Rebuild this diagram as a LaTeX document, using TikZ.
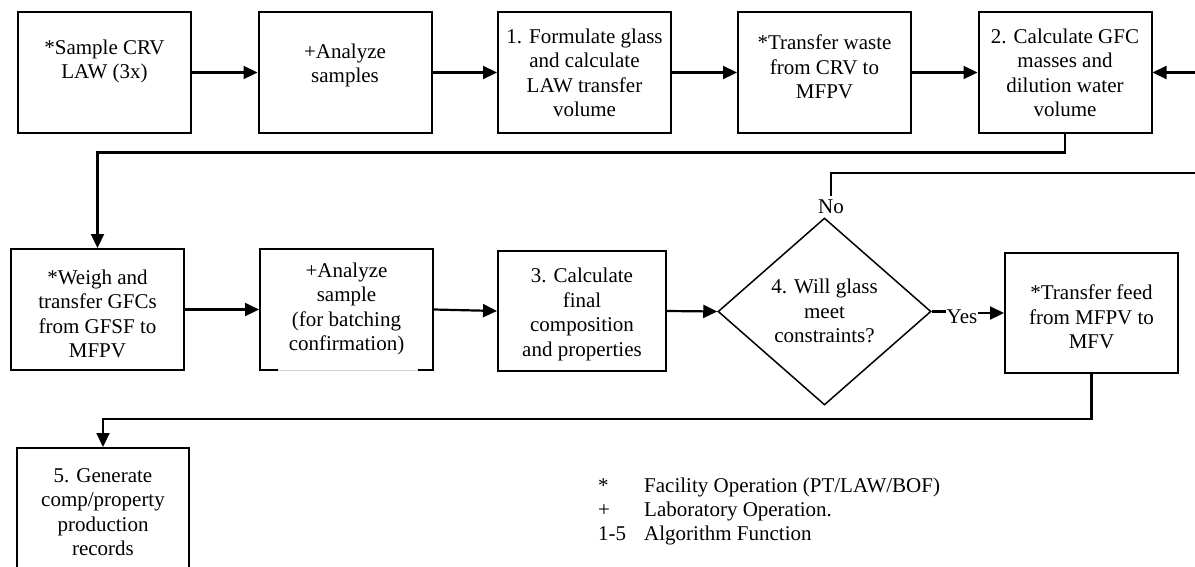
\documentclass[tikz,border=0pt]{standalone}
\usepackage{fontspec}
\setmainfont{Liberation Serif}
\usetikzlibrary{arrows.meta,shapes.geometric,calc}
\begin{document}
\begin{tikzpicture}[x=1pt,y=1pt,
  box/.style={draw, line width=2pt, minimum width=173pt, minimum height=121pt, inner sep=0pt},
  txt/.style={align=center, font=\fontsize{21}{24.5}\selectfont, inner sep=0pt},
  conn/.style={line width=2.2pt},
  arr/.style={conn, -{Triangle[length=14pt,width=13pt]}},
]
\clip (0,0) rectangle (1195,-566);
\fill[white] (0,0) rectangle (1195,-566);
% row 1
\node[box] (A) at (104.5,-72.5) {};
\node[txt] (At) at (104.5,-61.5) {*Sample CRV\\LAW (3x)};
\node[box] (B) at (345,-72.5) {};
\node[txt] (Bt) at (345,-65.5) {+Analyze\\samples};
\node[box] (C) at (584.5,-72.5) {};
\node[txt] (Ct) at (584.5,-73) {1. Formulate glass\\and calculate\\LAW transfer\\volume};
\node[box] (D) at (824.5,-72.5) {};
\node[txt] (Dt) at (824.5,-67) {*Transfer waste\\from CRV to\\MFPV};
\node[box] (E) at (1065,-72.5) {};
\node[txt] (Et) at (1065,-73) {2. Calculate GFC\\masses and\\dilution water\\volume};
% row 2
\node[box] (F) at (97.5,-309.5) {};
\node[txt] (Ft) at (97.5,-314) {*Weigh and\\transfer GFCs\\from GFSF to\\MFPV};
\node[box] (G) at (346.5,-309.5) {};
\node[txt] (Gt) at (346.5,-309) {+Analyze\\sample\\(for batching\\confirmation)};
\node[box, minimum width=168pt, minimum height=120pt] (H) at (582,-311) {};
\node[txt] (Ht) at (582,-314.5) {3. Calculate\\final\\composition\\and properties};
\node[draw, diamond, line width=1.5pt, minimum width=213pt, minimum height=187pt, inner sep=0pt] (Q) at (824.5,-311.5) {};
\node[txt] (Qt) at (824.5,-311) {4. Will glass\\meet\\constraints?};
\node[box, minimum height=120pt] (I) at (1091.5,-313) {};
\node[txt] (It) at (1091.5,-317) {*Transfer feed\\from MFPV to\\MFV};
% row 3
\node[box, minimum width=172pt, minimum height=140pt] (J) at (103,-518) {};
\node[txt] (Jt) at (103,-512) {5. Generate\\comp/property\\production\\records};
% gap in bottom border of G
\draw[white, line width=2.8pt] ([shift={(19pt,1pt)}]G.south west) -- ([shift={(159pt,1pt)}]G.south west);
\draw[gray!35, line width=0.7pt] ([shift={(19pt,1pt)}]G.south west) -- ([shift={(159pt,1pt)}]G.south west);
% labels
\node[txt, inner xsep=1pt] (yes) at (962,-317) {Yes};
\node[txt] (no) at (831,-207) {No};
\coordinate (fb) at (1200,-72.5);
\coordinate (noend) at (1200,-173);
% connectors row 1
\draw[arr] (A) -- (B);
\draw[arr] (B) -- (C);
\draw[arr] (C) -- (D);
\draw[arr] (D) -- (E);
\draw[arr] (fb) -- (E.east);
\draw[arr] (E.south) -- ++(0,-18.5) -| (F.north);
% connectors row 2
\draw[arr] (F) -- (G);
\draw[arr] (G.east) -- (H.west);
\draw[arr] (H.east) -- (Q.west);
\draw[conn] (Q.east) -- (Q.east -| yes.west);
\draw[arr] (yes.east |- I.west) -- (I.west);
\draw[conn] ([yshift=4pt]no.north) -- (no.north |- noend) -- (noend);
\draw[arr] (I.south) -- (I.south |- 0,-419) -| (J.north);
% legend
\node[txt, anchor=base west] (l1s) at (598,-492) {*};
\node[txt, anchor=base west] (l1t) at (644,-492) {Facility Operation (PT/LAW/BOF)};
\node[txt, anchor=base west] (l2s) at (598,-516) {+};
\node[txt, anchor=base west] (l2t) at (644,-516) {Laboratory Operation.};
\node[txt, anchor=base west] (l3s) at (598,-540) {1-5};
\node[txt, anchor=base west] (l3t) at (644,-540) {Algorithm Function};
\end{tikzpicture}
\end{document}
